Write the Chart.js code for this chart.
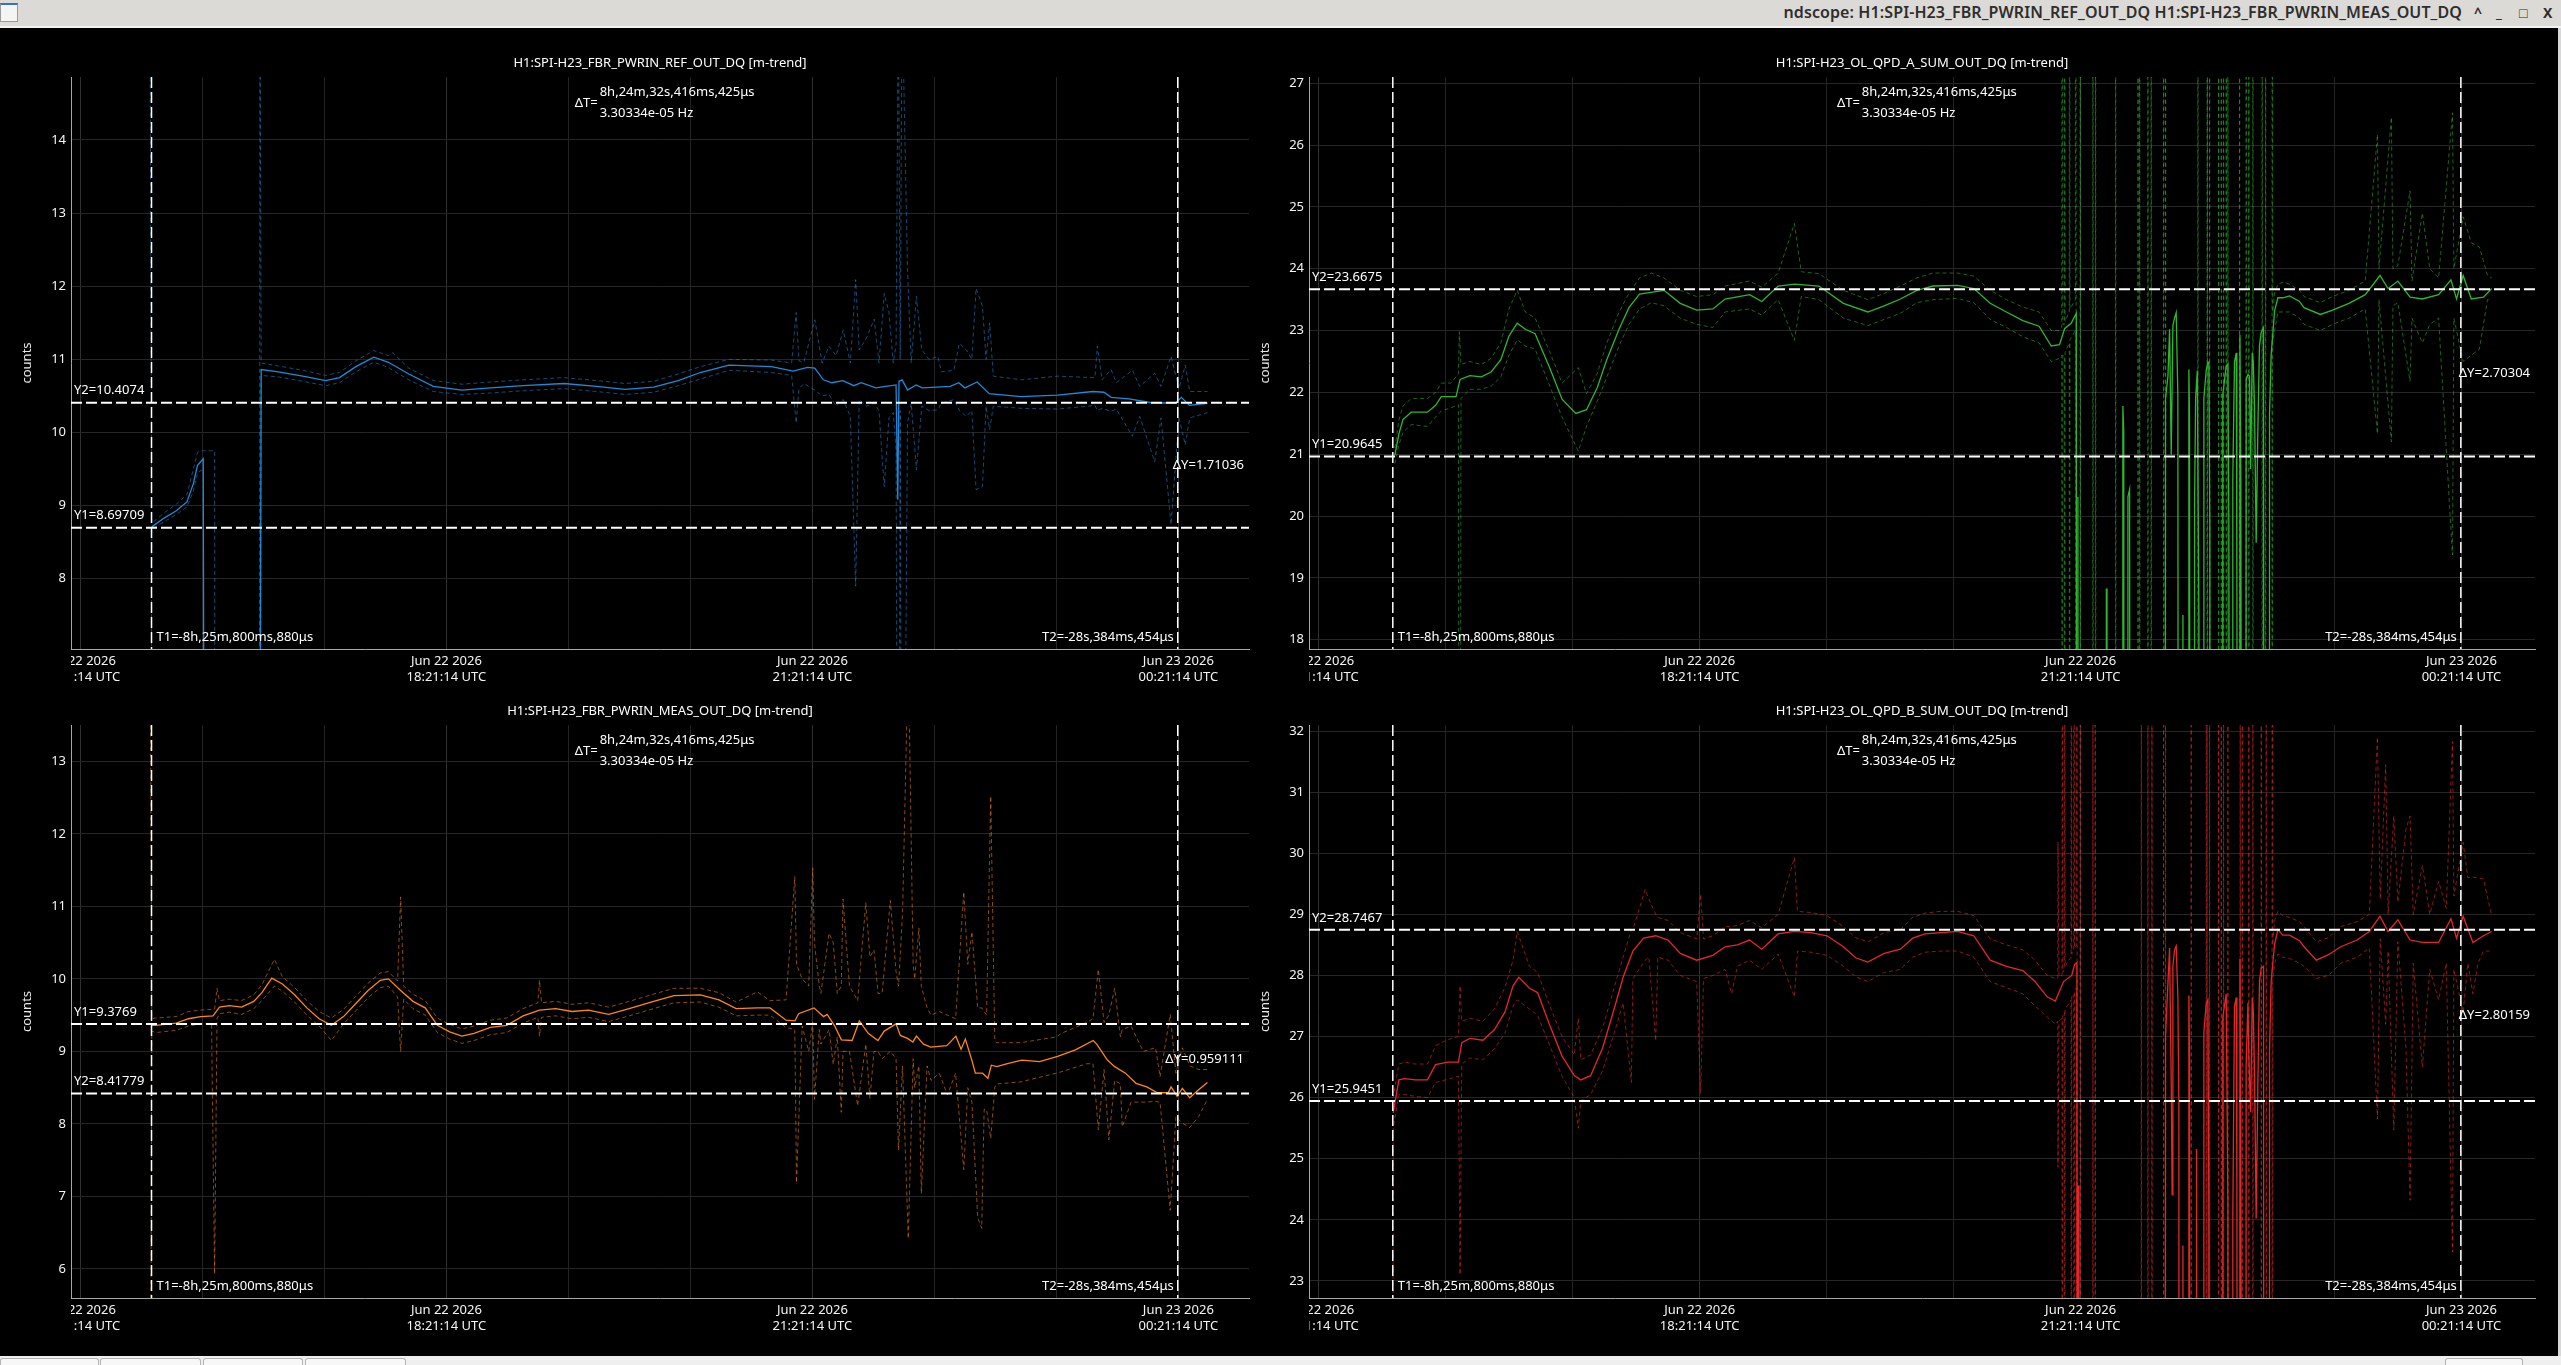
<!DOCTYPE html>
<html lang="en">
<head>
  <meta charset="UTF-8">
  <title>ndscope: H1:SPI-H23_FBR_PWRIN_REF_OUT_DQ H1:SPI-H23_FBR_PWRIN_MEAS_OUT_DQ</title>
  <script src="https://cdn.jsdelivr.net/npm/chart.js@4.4.1/dist/chart.umd.min.js"></script>
  <style>
    html, body { margin: 0; padding: 0; background: #000; overflow: hidden; }
    body { width: 2561px; height: 1365px; position: relative; font-family: "Noto Sans", sans-serif; }
    canvas { position: absolute; }
    #titlebar { position: absolute; left: 0; top: 0; width: 2561px; height: 26px; background: #dcdad6; border-bottom: 2px solid #f2f2f2; }
    #titlebar .icon { position: absolute; left: 0; top: 3px; width: 16px; height: 16px; background: #f4f4f4; border: 1px solid #999; border-top: 2px solid #3b6fb6; }
    #titlebar .text { position: absolute; right: 99px; top: 1px; font-size: 16px; font-weight: 600; letter-spacing: 0.1px; color: #2e2e2e; white-space: nowrap; }
    #titlebar .btn { position: absolute; top: 3px; font-size: 14px; font-weight: 700; color: #2e2e2e; }
    #rightedge { position: absolute; left: 2558px; top: 28px; width: 3px; height: 1328px; background: #d8d8d8; }
    #bottombar { position: absolute; left: 0; top: 1356px; width: 2561px; height: 9px; background: #efefef; }
    .tab { position: absolute; top: 2px; height: 10px; background: #f7f7f7; border: 1px solid #b4b4b4; border-bottom: none; border-radius: 3px 3px 0 0; }
  </style>
</head>
<body>
  <div id="titlebar">
    <div class="icon"></div>
    <div class="text">ndscope: H1:SPI-H23_FBR_PWRIN_REF_OUT_DQ H1:SPI-H23_FBR_PWRIN_MEAS_OUT_DQ</div>
    <span class="btn" style="left:2474px">^</span>
    <span class="btn" style="left:2496px">_</span>
    <span class="btn" style="left:2519px">&#9633;</span>
    <span class="btn" style="left:2543px">X</span>
  </div>
  <div id="rightedge"></div>

  <canvas id="plotRef" width="1255" height="672" style="left:0;top:28px"></canvas>
  <canvas id="plotQpdA" width="1306" height="672" style="left:1255px;top:28px"></canvas>
  <canvas id="plotMeas" width="1255" height="652" style="left:0;top:700px"></canvas>
  <canvas id="plotQpdB" width="1306" height="652" style="left:1255px;top:700px"></canvas>

  <div id="bottombar">
    <div class="tab" style="left:0;width:97px"></div>
    <div class="tab" style="left:100px;width:99px"></div>
    <div class="tab" style="left:203px;width:98px"></div>
    <div class="tab" style="left:305px;width:99px"></div>
    <div class="tab" style="left:2445px;width:76px"></div>
  </div>

  <script>
    // time axis: hours relative to Jun 23 2026 00:21:14 UTC
    const X_MIN = -9.077;
    const X_MAX = 0.579;
    const gridHours = [-9, -8, -7, -6, -5, -4, -3, -2, -1, 0];
    const tickHours = [-9, -6, -3, 0];
    const tickDates = ['Jun 22 2026', 'Jun 22 2026', 'Jun 22 2026', 'Jun 23 2026'];
    const tickTimes = ['15:21:14 UTC', '18:21:14 UTC', '21:21:14 UTC', '00:21:14 UTC'];

    // cursors (shared by all plots)
    const tCursors = [-8.417, -0.005];
    const t1Text = 'T1=-8h,25m,800ms,880μs';
    const t2Text = 'T2=-28s,384ms,454μs';
    const dtText = '8h,24m,32s,416ms,425μs';
    const dfText = '3.30334e-05 Hz';

    // H1:SPI-H23_FBR_PWRIN_REF_OUT_DQ  [t, mean]
    const refMean = [[-8.415,8.71],[-8.314,8.83],[-8.214,8.93],[-8.127,9.05],[-8.074,9.30],[-8.040,9.55],[-7.993,9.64],[-7.980,0],[-7.538,0],[-7.518,10.86],[-7.378,10.83],[-7.177,10.77],[-6.990,10.71],[-6.876,10.75],[-6.742,10.90],[-6.595,11.03],[-6.475,10.96],[-6.308,10.80],[-6.107,10.63],[-5.873,10.58],[-5.639,10.61],[-5.371,10.64],[-5.037,10.67],[-4.769,10.63],[-4.535,10.59],[-4.301,10.62],[-4.100,10.71],[-3.918,10.82],[-3.684,10.92],[-3.336,10.90],[-3.156,10.84],[-3.040,10.89],[-2.980,10.88],[-2.910,10.72],[-2.840,10.68],[-2.750,10.71],[-2.660,10.64],[-2.600,10.68],[-2.480,10.61],[-2.400,10.63],[-2.314,10.65],[-2.300,9.08],[-2.290,10.70],[-2.264,10.72],[-2.220,10.58],[-2.150,10.65],[-2.100,10.61],[-1.870,10.63],[-1.800,10.68],[-1.750,10.61],[-1.650,10.69],[-1.550,10.53],[-1.290,10.49],[-0.990,10.51],[-0.700,10.56],[-0.610,10.55],[-0.550,10.48],[-0.405,10.46],[-0.230,10.41],[-0.025,10.40],[0.025,10.48],[0.090,10.37],[0.240,10.40]];
    // [t, max, min]
    const refEnv = [[-8.430,16,0],[-8.415,8.76,8.68],[-8.314,8.90,8.78],[-8.214,9.02,8.88],[-8.127,9.15,8.98],[-8.074,9.50,9.20],[-8.040,9.73,9.45],[-7.993,9.75,9.50],[-7.985,9.75,0],[-7.900,9.75,0],[-7.895,0,0],[-7.535,0,0],[-7.528,16,0],[-7.518,10.95,10.78],[-7.378,10.91,10.76],[-7.177,10.85,10.70],[-6.990,10.78,10.64],[-6.876,10.82,10.68],[-6.742,10.98,10.83],[-6.595,11.12,10.96],[-6.475,11.05,10.89],[-6.440,11.09,10.85],[-6.308,10.88,10.72],[-6.107,10.71,10.56],[-5.873,10.66,10.52],[-5.639,10.69,10.54],[-5.371,10.72,10.57],[-5.037,10.75,10.60],[-4.769,10.71,10.56],[-4.535,10.67,10.52],[-4.301,10.70,10.55],[-4.100,10.80,10.64],[-3.918,10.90,10.73],[-3.684,11.00,10.85],[-3.336,10.99,10.82],[-3.170,10.95,10.78],[-3.133,11.64,10.13],[-3.110,10.98,10.60],[-3.070,10.96,10.67],[-2.980,11.54,10.58],[-2.920,10.95,10.50],[-2.864,11.18,10.52],[-2.806,11.05,10.36],[-2.747,11.40,10.45],[-2.689,10.95,10.22],[-2.645,12.09,7.90],[-2.616,11.13,10.45],[-2.557,11.29,10.36],[-2.493,11.55,10.40],[-2.454,10.95,10.30],[-2.411,11.90,9.26],[-2.372,11.64,10.20],[-2.337,10.95,10.27],[-2.314,11.20,9.76],[-2.295,16,0],[-2.280,11.00,10.30],[-2.265,16,0],[-2.220,12.22,10.13],[-2.190,10.95,10.40],[-2.147,11.86,9.49],[-2.103,11.13,10.36],[-2.044,11.00,10.30],[-1.971,11.04,10.31],[-1.942,10.83,10.40],[-1.840,10.85,10.45],[-1.795,11.22,10.30],[-1.738,11.13,10.22],[-1.693,11.00,10.30],[-1.658,11.97,9.22],[-1.606,11.73,9.26],[-1.576,11.00,10.36],[-1.547,11.50,10.04],[-1.517,10.77,10.36],[-1.283,10.72,10.33],[-0.990,10.77,10.32],[-0.684,10.75,10.37],[-0.664,11.18,10.30],[-0.625,10.72,10.33],[-0.552,10.86,10.29],[-0.508,10.68,10.32],[-0.377,10.85,9.95],[-0.317,10.63,10.22],[-0.194,10.81,9.60],[-0.142,10.63,10.20],[-0.060,11.04,8.74],[0.005,10.60,10.20],[0.057,10.92,9.83],[0.093,10.56,10.20],[0.238,10.56,10.27]];

    // H1:SPI-H23_OL_QPD_A_SUM_OUT_DQ
    const qpdAMean = [[-8.401,20.98],[-8.369,21.33],[-8.337,21.56],[-8.272,21.68],[-8.144,21.68],[-8.080,21.79],[-8.035,21.93],[-7.919,21.93],[-7.887,22.21],[-7.810,22.27],[-7.720,22.25],[-7.643,22.33],[-7.566,22.53],[-7.502,22.91],[-7.437,23.12],[-7.373,23.02],[-7.296,22.95],[-7.180,22.39],[-7.084,21.89],[-6.975,21.66],[-6.891,21.72],[-6.808,22.07],[-6.731,22.53],[-6.635,23.02],[-6.557,23.37],[-6.474,23.59],[-6.281,23.65],[-6.153,23.44],[-6.024,23.33],[-5.896,23.35],[-5.800,23.51],[-5.607,23.58],[-5.511,23.47],[-5.382,23.72],[-5.254,23.75],[-5.061,23.72],[-4.868,23.44],[-4.676,23.30],[-4.547,23.40],[-4.419,23.51],[-4.290,23.65],[-4.162,23.72],[-3.969,23.73],[-3.841,23.68],[-3.712,23.44],[-3.584,23.30],[-3.455,23.16],[-3.327,23.07],[-3.231,22.75],[-3.166,22.77],[-3.126,23.03],[-3.073,23.12],[-3.034,23.28],[-3.026,0],[-3.021,20.31],[-3.016,0],[-2.800,0],[-2.797,18.83],[-2.792,0],[-2.672,0],[-2.667,21.78],[-2.660,21.37],[-2.656,0],[-2.632,0],[-2.627,20.31],[-2.614,20.43],[-2.607,0],[-2.339,0],[-2.331,21.90],[-2.312,22.26],[-2.299,23.02],[-2.286,20.99],[-2.273,23.08],[-2.260,23.20],[-2.247,23.29],[-2.234,21.96],[-2.226,0],[-2.196,0],[-2.194,18.40],[-2.189,0],[-2.150,0],[-2.147,22.37],[-2.142,21.55],[-2.134,0],[-2.108,0],[-2.102,20.25],[-2.094,21.90],[-2.081,22.35],[-2.068,18.35],[-2.063,0],[-2.034,0],[-2.029,21.90],[-2.010,22.37],[-1.997,22.49],[-1.990,22.49],[-1.982,19.80],[-1.976,0],[-1.885,0],[-1.880,21.96],[-1.853,22.43],[-1.840,22.46],[-1.832,19.84],[-1.822,0],[-1.806,0],[-1.801,20.61],[-1.788,22.49],[-1.774,22.64],[-1.769,18.98],[-1.756,0],[-1.748,0],[-1.745,22.93],[-1.738,20.61],[-1.722,0],[-1.700,0],[-1.696,22.20],[-1.682,22.29],[-1.669,22.26],[-1.661,20.76],[-1.648,22.64],[-1.640,22.49],[-1.630,21.78],[-1.617,19.57],[-1.604,21.37],[-1.591,22.76],[-1.577,22.97],[-1.559,23.05],[-1.554,0],[-1.515,0],[-1.512,21.66],[-1.499,22.61],[-1.472,23.32],[-1.446,23.53],[-1.407,23.53],[-1.354,23.56],[-1.276,23.47],[-1.240,23.37],[-1.111,23.26],[-1.015,23.33],[-0.886,23.44],[-0.758,23.58],[-0.642,23.89],[-0.578,23.68],[-0.501,23.80],[-0.405,23.54],[-0.308,23.51],[-0.180,23.58],[-0.083,23.82],[-0.039,23.51],[0.013,23.89],[0.077,23.51],[0.173,23.54],[0.238,23.68]];
    const qpdAEnv = [[-8.401,21.10,20.85],[-8.369,21.55,21.15],[-8.337,21.78,21.35],[-8.272,21.90,21.48],[-8.144,21.90,21.45],[-8.080,22.00,21.60],[-8.035,22.15,21.70],[-7.960,22.15,21.75],[-7.900,22.30,21.80],[-7.893,22.98,0],[-7.880,22.45,21.90],[-7.810,22.50,22.05],[-7.720,22.45,22.05],[-7.643,22.55,22.10],[-7.566,22.80,22.25],[-7.502,23.35,22.60],[-7.437,23.65,22.85],[-7.373,23.30,22.75],[-7.296,23.20,22.70],[-7.180,22.65,22.10],[-7.084,22.15,21.60],[-6.956,22.40,21.05],[-6.891,21.98,21.45],[-6.808,22.30,21.85],[-6.731,22.80,22.25],[-6.635,23.30,22.75],[-6.557,23.60,23.10],[-6.474,23.85,23.35],[-6.380,23.93,23.45],[-6.281,23.85,23.40],[-6.153,23.65,23.20],[-6.024,23.55,23.10],[-5.896,23.58,23.05],[-5.800,23.72,23.30],[-5.607,23.80,23.35],[-5.511,23.70,23.25],[-5.382,23.93,23.50],[-5.254,24.73,22.84],[-5.200,23.95,23.55],[-5.061,23.92,23.50],[-4.868,23.65,23.20],[-4.676,23.50,23.08],[-4.547,23.60,23.18],[-4.419,23.72,23.28],[-4.290,23.85,23.45],[-4.162,23.93,23.50],[-3.969,23.93,23.52],[-3.841,23.88,23.45],[-3.712,23.65,23.18],[-3.584,23.50,23.05],[-3.455,23.38,22.90],[-3.327,23.30,22.80],[-3.231,23.00,22.50],[-3.166,23.00,22.55],[-3.148,23.05,22.60],[-3.144,40,0],[-3.140,23.10,22.60],[-3.128,23.10,22.60],[-3.126,40,0],[-3.122,23.15,22.65],[-3.089,23.30,22.80],[-3.087,40,0],[-3.084,23.35,22.85],[-3.041,23.50,23.00],[-3.039,40,0],[-3.029,0,0],[-3.005,0,0],[-3.003,40,0],[-2.999,0,0],[-2.905,0,0],[-2.903,40,0],[-2.899,0,0],[-2.884,0,0],[-2.882,40,0],[-2.878,0,0],[-2.726,0,0],[-2.724,40,0],[-2.720,0,0],[-2.550,0,0],[-2.548,40,0],[-2.544,0,0],[-2.537,0,0],[-2.535,40,0],[-2.531,0,0],[-2.472,0,0],[-2.470,40,0],[-2.466,0,0],[-2.446,0,0],[-2.444,40,0],[-2.440,0,0],[-2.348,0,0],[-2.346,40,0],[-2.342,0,0],[-2.333,0,0],[-2.331,40,0],[-2.327,0,0],[-2.078,0,0],[-2.076,40,0],[-2.072,0,0],[-2.005,0,0],[-2.003,40,0],[-1.999,0,0],[-1.986,0,0],[-1.984,40,0],[-1.980,0,0],[-1.915,0,0],[-1.913,40,0],[-1.909,0,0],[-1.894,0,0],[-1.892,40,0],[-1.888,0,0],[-1.876,0,0],[-1.874,40,0],[-1.870,0,0],[-1.855,0,0],[-1.853,40,0],[-1.849,0,0],[-1.842,0,0],[-1.840,40,0],[-1.836,0,0],[-1.750,0,0],[-1.748,40,0],[-1.744,0,0],[-1.698,0,0],[-1.696,40,0],[-1.692,0,0],[-1.677,0,0],[-1.675,40,0],[-1.671,0,0],[-1.645,0,0],[-1.643,40,0],[-1.639,0,0],[-1.572,0,0],[-1.570,40,0],[-1.566,0,0],[-1.545,0,0],[-1.543,40,0],[-1.539,0,0],[-1.493,0,0],[-1.491,40,0],[-1.487,23.30,22.80],[-1.472,23.60,23.00],[-1.446,23.75,23.30],[-1.407,23.78,23.30],[-1.354,23.75,23.30],[-1.276,23.65,23.20],[-1.240,23.55,23.10],[-1.111,23.45,23.00],[-1.015,23.55,23.10],[-0.886,23.65,23.20],[-0.758,23.80,23.35],[-0.662,26.17,21.33],[-0.650,24.00,23.50],[-0.552,26.45,21.20],[-0.540,24.00,23.40],[-0.501,24.05,23.45],[-0.405,25.26,22.18],[-0.390,23.80,23.20],[-0.308,24.90,22.80],[-0.250,24.00,23.10],[-0.180,23.85,23.20],[-0.071,26.52,19.37],[-0.060,24.00,23.20],[0.013,24.84,22.50],[0.077,24.42,22.60],[0.141,24.35,22.70],[0.205,23.89,23.50],[0.238,23.85,23.50]];

    // H1:SPI-H23_FBR_PWRIN_MEAS_OUT_DQ
    const measMean = [[-8.415,9.36],[-8.381,9.36],[-8.214,9.39],[-8.114,9.45],[-8.013,9.48],[-7.913,9.49],[-7.860,9.61],[-7.779,9.63],[-7.679,9.61],[-7.579,9.69],[-7.512,9.81],[-7.431,10.01],[-7.344,9.93],[-7.244,9.78],[-7.144,9.60],[-7.043,9.45],[-6.943,9.36],[-6.843,9.48],[-6.742,9.66],[-6.642,9.84],[-6.542,9.98],[-6.475,10.00],[-6.375,9.84],[-6.274,9.69],[-6.174,9.60],[-6.074,9.36],[-5.973,9.27],[-5.873,9.21],[-5.773,9.25],[-5.639,9.33],[-5.505,9.36],[-5.371,9.49],[-5.237,9.57],[-5.104,9.59],[-4.970,9.55],[-4.836,9.57],[-4.669,9.51],[-4.502,9.59],[-4.301,9.69],[-4.134,9.77],[-3.918,9.78],[-3.766,9.71],[-3.625,9.59],[-3.451,9.60],[-3.347,9.60],[-3.216,9.43],[-3.143,9.42],[-3.113,9.52],[-2.987,9.60],[-2.908,9.48],[-2.879,9.51],[-2.820,9.36],[-2.762,9.16],[-2.674,9.15],[-2.615,9.42],[-2.542,9.25],[-2.463,9.15],[-2.411,9.28],[-2.314,9.38],[-2.279,9.22],[-2.220,9.18],[-2.176,9.13],[-2.147,9.21],[-2.089,9.10],[-2.030,9.06],[-1.898,9.08],[-1.824,9.21],[-1.781,9.03],[-1.746,9.17],[-1.693,8.88],[-1.664,8.70],[-1.606,8.70],[-1.561,8.63],[-1.533,8.81],[-1.488,8.79],[-1.401,8.83],[-1.284,8.88],[-1.137,8.86],[-0.990,8.93],[-0.844,9.02],[-0.698,9.15],[-0.669,9.10],[-0.582,8.88],[-0.522,8.79],[-0.434,8.70],[-0.347,8.56],[-0.259,8.51],[-0.172,8.43],[-0.083,8.43],[-0.060,8.51],[-0.010,8.38],[0.033,8.49],[0.093,8.36],[0.166,8.47],[0.238,8.57]];
    const measEnv = [[-8.430,16,0],[-8.415,9.45,9.28],[-8.381,9.46,9.26],[-8.214,9.48,9.29],[-8.114,9.55,9.35],[-8.013,9.57,9.38],[-7.925,9.58,9.38],[-7.900,9.58,5.93],[-7.880,9.87,9.45],[-7.860,9.70,9.52],[-7.779,9.72,9.54],[-7.679,9.70,9.51],[-7.579,9.78,9.59],[-7.512,9.92,9.70],[-7.410,10.27,9.90],[-7.344,10.03,9.83],[-7.244,9.88,9.68],[-7.144,9.70,9.50],[-7.043,9.55,9.35],[-6.943,9.46,9.15],[-6.843,9.58,9.38],[-6.742,9.76,9.56],[-6.642,9.94,9.74],[-6.542,10.08,9.88],[-6.475,10.10,9.90],[-6.400,9.97,9.75],[-6.375,11.13,9.00],[-6.350,9.90,9.72],[-6.274,9.79,9.59],[-6.174,9.70,9.50],[-6.074,9.46,9.26],[-5.973,9.37,9.17],[-5.873,9.31,9.11],[-5.773,9.35,9.15],[-5.639,9.43,9.23],[-5.505,9.46,9.26],[-5.371,9.59,9.39],[-5.250,9.67,9.47],[-5.237,9.98,9.21],[-5.220,9.67,9.47],[-5.104,9.69,9.49],[-4.970,9.65,9.45],[-4.836,9.67,9.47],[-4.669,9.61,9.41],[-4.502,9.69,9.49],[-4.301,9.79,9.59],[-4.134,9.87,9.67],[-3.918,9.87,9.68],[-3.766,9.81,9.61],[-3.625,9.68,9.49],[-3.451,9.82,9.50],[-3.347,9.70,9.50],[-3.216,9.71,9.33],[-3.144,11.41,9.30],[-3.130,10.20,7.19],[-3.084,10.00,9.35],[-3.030,9.90,9.00],[-2.997,11.53,9.40],[-2.983,10.50,8.34],[-2.943,9.90,9.30],[-2.930,9.80,9.10],[-2.863,10.63,9.30],[-2.829,10.50,8.82],[-2.796,9.80,9.20],[-2.763,9.90,8.16],[-2.749,11.10,9.00],[-2.696,9.90,9.00],[-2.629,9.70,8.25],[-2.562,11.05,9.10],[-2.528,10.30,8.35],[-2.495,10.40,9.00],[-2.462,9.80,9.00],[-2.428,9.80,8.90],[-2.361,11.08,9.00],[-2.314,10.10,8.90],[-2.294,9.90,7.64],[-2.261,10.90,8.80],[-2.214,14.50,6.42],[-2.174,10.20,8.90],[-2.161,10.00,8.50],[-2.127,10.70,8.80],[-2.107,9.90,7.04],[-2.060,9.60,8.80],[-2.027,9.50,8.60],[-1.960,9.55,8.70],[-1.893,9.50,8.40],[-1.826,9.45,8.70],[-1.759,11.20,7.37],[-1.726,10.20,8.50],[-1.692,10.65,8.30],[-1.645,9.60,6.71],[-1.612,9.60,6.56],[-1.592,9.55,8.20],[-1.572,9.50,8.20],[-1.538,12.52,7.80],[-1.505,9.15,8.50],[-1.492,9.12,8.55],[-1.291,9.12,8.58],[-1.000,9.20,8.70],[-0.957,9.25,8.72],[-0.750,9.40,8.83],[-0.700,9.45,8.83],[-0.656,10.13,7.92],[-0.609,9.40,8.75],[-0.570,9.50,7.78],[-0.522,9.87,8.60],[-0.475,9.20,8.55],[-0.460,9.30,7.96],[-0.388,9.35,8.30],[-0.288,9.00,8.30],[-0.187,9.05,8.31],[-0.150,8.65,8.30],[-0.067,9.51,6.81],[-0.020,8.70,8.10],[0.033,9.05,8.01],[0.093,8.80,7.95],[0.166,8.75,8.10],[0.238,8.75,8.34]];

    // H1:SPI-H23_OL_QPD_B_SUM_OUT_DQ
    const qpdBMean = [[-8.414,25.75],[-8.369,26.29],[-8.324,26.31],[-8.240,26.29],[-8.144,26.29],[-8.080,26.54],[-7.984,26.58],[-7.900,26.58],[-7.874,26.90],[-7.810,26.97],[-7.707,26.94],[-7.617,27.11],[-7.534,27.40],[-7.470,27.83],[-7.425,27.97],[-7.341,27.79],[-7.277,27.72],[-7.180,27.18],[-7.084,26.68],[-6.988,26.36],[-6.936,26.29],[-6.859,26.36],[-6.763,26.82],[-6.667,27.50],[-6.603,27.97],[-6.526,28.40],[-6.442,28.61],[-6.346,28.65],[-6.249,28.58],[-6.153,28.36],[-6.024,28.25],[-5.896,28.33],[-5.800,28.47],[-5.703,28.50],[-5.607,28.58],[-5.511,28.43],[-5.382,28.68],[-5.254,28.72],[-5.125,28.70],[-4.997,28.65],[-4.868,28.47],[-4.772,28.29],[-4.676,28.22],[-4.547,28.36],[-4.419,28.43],[-4.322,28.61],[-4.226,28.68],[-4.098,28.70],[-3.969,28.72],[-3.841,28.65],[-3.712,28.25],[-3.584,28.15],[-3.455,28.08],[-3.359,27.90],[-3.263,27.65],[-3.199,27.58],[-3.134,27.90],[-3.070,28.00],[-3.047,28.18],[-3.029,28.21],[-3.024,0],[-3.018,24.56],[-3.013,0],[-2.339,0],[-2.331,27.01],[-2.318,27.61],[-2.299,28.45],[-2.286,26.23],[-2.279,24.41],[-2.273,28.15],[-2.260,28.42],[-2.247,28.48],[-2.234,27.67],[-2.226,25.94],[-2.222,0],[-2.196,0],[-2.194,23.58],[-2.189,0],[-2.150,0],[-2.147,27.67],[-2.142,26.59],[-2.137,0],[-2.089,0],[-2.087,25.16],[-2.081,0],[-2.034,0],[-2.029,27.07],[-2.010,27.55],[-1.997,27.60],[-1.990,24.14],[-1.982,0],[-1.885,0],[-1.880,27.31],[-1.853,27.70],[-1.840,24.32],[-1.832,0],[-1.806,0],[-1.801,24.08],[-1.788,27.49],[-1.774,27.64],[-1.769,24.50],[-1.756,0],[-1.748,0],[-1.745,28.27],[-1.738,25.28],[-1.722,0],[-1.700,0],[-1.696,26.53],[-1.682,27.55],[-1.675,26.71],[-1.661,25.76],[-1.648,27.64],[-1.640,27.43],[-1.630,26.41],[-1.617,24.02],[-1.604,26.17],[-1.591,27.91],[-1.577,28.12],[-1.559,28.15],[-1.554,0],[-1.515,0],[-1.512,26.77],[-1.499,27.91],[-1.472,28.51],[-1.446,28.75],[-1.407,28.66],[-1.354,28.66],[-1.276,28.57],[-1.240,28.47],[-1.143,28.25],[-1.047,28.34],[-0.951,28.47],[-0.822,28.58],[-0.726,28.72],[-0.642,28.97],[-0.578,28.72],[-0.501,28.91],[-0.405,28.58],[-0.308,28.54],[-0.180,28.54],[-0.083,28.93],[-0.039,28.61],[0.013,28.97],[0.090,28.54],[0.173,28.65],[0.238,28.72]];
    const qpdBEnv = [[-8.420,26.00,0],[-8.414,26.00,25.50],[-8.369,26.55,26.05],[-8.324,26.58,26.05],[-8.240,26.55,26.02],[-8.144,26.55,26.00],[-8.080,26.85,26.25],[-7.984,26.95,26.30],[-7.900,27.00,26.35],[-7.887,27.83,23.10],[-7.874,27.25,26.55],[-7.810,27.30,26.65],[-7.707,27.25,26.62],[-7.617,27.45,26.80],[-7.534,27.80,27.05],[-7.470,28.25,27.50],[-7.437,28.72,27.60],[-7.341,28.15,27.45],[-7.277,28.05,27.35],[-7.180,27.50,26.85],[-7.084,27.00,26.35],[-6.988,26.70,26.00],[-6.956,27.30,25.50],[-6.936,26.62,25.95],[-6.859,26.70,26.05],[-6.763,27.15,26.45],[-6.667,27.85,27.10],[-6.603,28.30,27.55],[-6.538,28.75,26.25],[-6.526,28.75,27.95],[-6.429,29.41,28.25],[-6.400,29.25,28.30],[-6.346,29.00,26.93],[-6.330,28.95,28.30],[-6.249,28.90,28.25],[-6.153,28.70,28.00],[-6.024,28.60,27.90],[-5.992,29.33,26.07],[-5.970,28.60,27.95],[-5.896,28.65,28.00],[-5.800,28.80,28.10],[-5.748,28.80,27.70],[-5.703,28.82,28.15],[-5.607,28.90,28.25],[-5.511,28.78,28.10],[-5.382,29.00,28.35],[-5.254,29.93,27.65],[-5.230,29.05,28.40],[-5.125,29.03,28.38],[-4.997,28.98,28.33],[-4.868,28.80,28.15],[-4.772,28.62,27.98],[-4.676,28.55,27.90],[-4.547,28.70,28.05],[-4.419,28.75,28.10],[-4.322,28.95,28.30],[-4.226,29.02,28.38],[-4.098,29.05,28.40],[-3.969,29.05,28.40],[-3.841,28.98,28.30],[-3.712,28.60,27.90],[-3.584,28.50,27.80],[-3.455,28.42,27.70],[-3.359,28.25,27.50],[-3.263,28.00,27.32],[-3.199,27.95,27.20],[-3.180,27.95,27.25],[-3.178,30.18,24.86],[-3.170,27.98,27.25],[-3.146,28.00,27.30],[-3.144,40,0],[-3.140,28.05,27.35],[-3.128,28.10,27.40],[-3.126,40,0],[-3.122,28.15,27.45],[-3.075,28.30,27.60],[-3.073,40,0],[-3.070,28.35,27.65],[-3.054,28.40,27.70],[-3.052,40,0],[-3.048,28.45,27.75],[-3.031,28.50,27.80],[-3.029,40,0],[-3.024,0,0],[-3.005,0,0],[-3.003,40,0],[-2.999,0,0],[-2.905,0,0],[-2.903,40,0],[-2.899,0,0],[-2.887,0,0],[-2.885,40,0],[-2.881,0,0],[-2.524,0,0],[-2.522,40,0],[-2.518,0,0],[-2.472,0,0],[-2.470,40,0],[-2.466,0,0],[-2.440,0,0],[-2.438,40,0],[-2.434,0,0],[-2.348,0,0],[-2.346,40,0],[-2.342,0,0],[-2.333,0,0],[-2.331,40,0],[-2.327,0,0],[-2.131,0,0],[-2.129,40,0],[-2.125,0,0],[-2.012,0,0],[-2.010,40,0],[-2.006,0,0],[-1.986,0,0],[-1.984,40,0],[-1.980,0,0],[-1.915,0,0],[-1.913,40,0],[-1.909,0,0],[-1.894,0,0],[-1.892,40,0],[-1.888,0,0],[-1.876,0,0],[-1.874,40,0],[-1.870,0,0],[-1.842,0,0],[-1.840,40,0],[-1.836,0,0],[-1.745,0,0],[-1.743,40,0],[-1.739,0,0],[-1.729,0,0],[-1.727,40,0],[-1.723,0,0],[-1.677,0,0],[-1.675,40,0],[-1.671,0,0],[-1.645,0,0],[-1.643,40,0],[-1.639,0,0],[-1.579,0,0],[-1.577,40,0],[-1.573,0,0],[-1.540,0,0],[-1.538,40,0],[-1.534,0,0],[-1.493,0,0],[-1.491,40,0],[-1.487,28.50,27.90],[-1.472,28.90,28.20],[-1.446,29.05,28.35],[-1.407,28.98,28.30],[-1.354,28.95,28.28],[-1.276,28.88,28.20],[-1.240,28.80,28.15],[-1.143,28.55,27.95],[-1.047,28.62,28.00],[-0.951,28.80,28.20],[-0.822,28.88,28.30],[-0.726,29.00,28.45],[-0.662,31.90,25.65],[-0.640,29.25,28.60],[-0.597,31.45,27.20],[-0.578,29.00,28.40],[-0.533,30.61,25.47],[-0.501,29.20,28.55],[-0.437,30.40,26.80],[-0.405,30.61,24.32],[-0.380,29.00,28.20],[-0.308,29.80,26.50],[-0.250,29.00,28.10],[-0.180,29.54,27.60],[-0.120,29.10,28.20],[-0.071,31.83,23.47],[-0.060,29.30,28.10],[0.013,30.18,27.40],[0.050,29.60,28.20],[0.090,29.61,27.70],[0.130,29.60,28.20],[0.173,29.58,28.40],[0.238,28.97,28.40]];

    Chart.defaults.font.family = '"Noto Sans", sans-serif';
    Chart.defaults.font.size = 13;
    Chart.defaults.color = '#f0f0f0';

    // ndscope draws its cursors and their readouts over the plot
    const cursorPlugin = {
      id: 'cursors',
      afterDatasetsDraw(chart, args, o) {
        const { ctx, chartArea: a, scales: { x, y } } = chart;
        const px1 = x.getPixelForValue(tCursors[0]);
        const px2 = x.getPixelForValue(tCursors[1]);
        const py1 = y.getPixelForValue(o.y1);
        const py2 = y.getPixelForValue(o.y2);
        ctx.save();
        ctx.strokeStyle = '#ffffff';
        ctx.setLineDash([11, 4]);
        ctx.lineWidth = 2;
        [py1, py2].forEach(py => {
          ctx.beginPath(); ctx.moveTo(a.left, py); ctx.lineTo(a.right, py); ctx.stroke();
        });
        ctx.lineWidth = 1.5;
        [px1, px2].forEach(px => {
          ctx.beginPath(); ctx.moveTo(px, a.top); ctx.lineTo(px, a.bottom); ctx.stroke();
        });
        ctx.setLineDash([]);
        ctx.fillStyle = '#ffffff';
        ctx.font = '13px "Noto Sans", sans-serif';
        ctx.textBaseline = 'middle';

        ctx.textAlign = 'center';
        ctx.fillText(o.title, (a.left + a.right) / 2, a.top - 14);

        ctx.textAlign = 'left';
        ctx.fillText(t1Text, px1 + 5, a.bottom - 12);
        ctx.fillText('Y1=' + o.y1, a.left + 3, py1 - 12);
        ctx.fillText('Y2=' + o.y2, a.left + 3, py2 - 12);
        ctx.textAlign = 'right';
        ctx.fillText(t2Text, px2 - 4, a.bottom - 12);
        ctx.fillText('ΔY=' + o.dy, a.right - 5, (py1 + py2) / 2);

        const w = Math.max(ctx.measureText(dtText).width, ctx.measureText(dfText).width);
        const p = ctx.measureText('ΔT=').width;
        const left = (px1 + px2) / 2 - (p + 2 + w) / 2;
        ctx.textAlign = 'left';
        ctx.fillText('ΔT=', left, a.top + 26);
        ctx.fillText(dtText, left + p + 2, a.top + 15);
        ctx.fillText(dfText, left + p + 2, a.top + 36);
        ctx.restore();
      }
    };

    // the leftmost time label is cut at the plot edge, as in ndscope
    function clipLabels(scale) {
      if (scale._clipPatched) return;
      scale._clipPatched = true;
      const drawLabels = scale.drawLabels.bind(scale);
      scale.drawLabels = function (area) {
        const c = this.ctx;
        c.save();
        c.beginPath();
        c.rect(this.left, this.top, this.right - this.left, this.bottom - this.top);
        c.clip();
        drawLabels(area);
        c.restore();
      };
    }

    function plot(id, p) {
      const line = (pts, col, i, width, dash) => ({
        data: pts.map(q => ({ x: q[0], y: q[i] })),
        borderColor: col,
        borderWidth: width,
        borderDash: dash,
        pointRadius: 0,
        tension: 0,
        fill: false
      });
      return new Chart(document.getElementById(id), {
        type: 'line',
        data: {
          datasets: [
            line(p.env, p.dim, 1, 1, [4, 3]),
            line(p.env, p.dim, 2, 1, [4, 3]),
            line(p.mean, p.color, 1, 1.3, [])
          ]
        },
        options: {
          animation: false,
          responsive: false,
          devicePixelRatio: 1,
          events: [],
          layout: { padding: p.pad },
          plugins: {
            legend: { display: false },
            tooltip: { enabled: false },
            cursors: { title: p.title, y1: p.y1, y2: p.y2, dy: p.dy }
          },
          scales: {
            x: {
              type: 'linear',
              min: X_MIN,
              max: X_MAX,
              afterBuildTicks: s => { s.ticks = gridHours.map(v => ({ value: v })); },
              afterFit: s => { s.height = p.xh; clipLabels(s); },
              ticks: {
                autoSkip: false,
                maxRotation: 0,
                padding: 4,
                color: '#f4f4f4',
                font: { size: 13, lineHeight: 1.25 },
                callback: v => {
                  const i = tickHours.indexOf(v);
                  return i < 0 ? '' : [tickDates[i], tickTimes[i]];
                }
              },
              grid: {
                drawTicks: false,
                color: c => tickHours.includes(c.tick.value) ? '#303030' : '#232323'
              },
              border: { display: true, color: '#a8a8a8', width: 1 }
            },
            y: {
              min: p.yMin,
              max: p.yMax,
              afterFit: s => { s.width = p.yw; },
              ticks: { stepSize: 1, includeBounds: false, padding: 5, color: '#f4f4f4' },
              grid: { drawTicks: false, color: '#262626' },
              border: { display: true, color: '#a8a8a8', width: 1 },
              title: {
                display: true,
                text: 'counts',
                color: '#e8e8e8',
                font: { size: 13, lineHeight: 1.2 },
                padding: { top: p.titlePad, bottom: 0 }
              }
            }
          }
        },
        plugins: [cursorPlugin]
      });
    }

    plot('plotRef', {
      title: 'H1:SPI-H23_FBR_PWRIN_REF_OUT_DQ [m-trend]',
      mean: refMean, env: refEnv,
      color: '#1f8ad8', dim: 'rgba(31,138,216,0.55)',
      yMin: 7.04, yMax: 14.86, y1: 8.69709, y2: 10.4074, dy: 1.71036,
      pad: { left: 0, top: 49, right: 6, bottom: 0 }, yw: 71, xh: 51, titlePad: 19
    });
    plot('plotQpdA', {
      title: 'H1:SPI-H23_OL_QPD_A_SUM_OUT_DQ [m-trend]',
      mean: qpdAMean, env: qpdAEnv,
      color: '#2fb82f', dim: 'rgba(47,184,47,0.55)',
      yMin: 17.85, yMax: 27.1, y1: 20.9645, y2: 23.6675, dy: 2.70304,
      pad: { left: 0, top: 49, right: 26, bottom: 0 }, yw: 54, xh: 51, titlePad: 2
    });
    plot('plotMeas', {
      title: 'H1:SPI-H23_FBR_PWRIN_MEAS_OUT_DQ [m-trend]',
      mean: measMean, env: measEnv,
      color: '#ff8618', dim: 'rgba(255,134,24,0.55)',
      yMin: 5.6, yMax: 13.5, y1: 9.3769, y2: 8.41779, dy: 0.959111,
      pad: { left: 0, top: 25, right: 6, bottom: 0 }, yw: 71, xh: 54, titlePad: 19
    });
    plot('plotQpdB', {
      title: 'H1:SPI-H23_OL_QPD_B_SUM_OUT_DQ [m-trend]',
      mean: qpdBMean, env: qpdBEnv,
      color: '#e4282a', dim: 'rgba(228,40,42,0.6)',
      yMin: 22.72, yMax: 32.1, y1: 25.9451, y2: 28.7467, dy: 2.80159,
      pad: { left: 0, top: 25, right: 26, bottom: 0 }, yw: 54, xh: 54, titlePad: 2
    });
  </script>
</body>
</html>
